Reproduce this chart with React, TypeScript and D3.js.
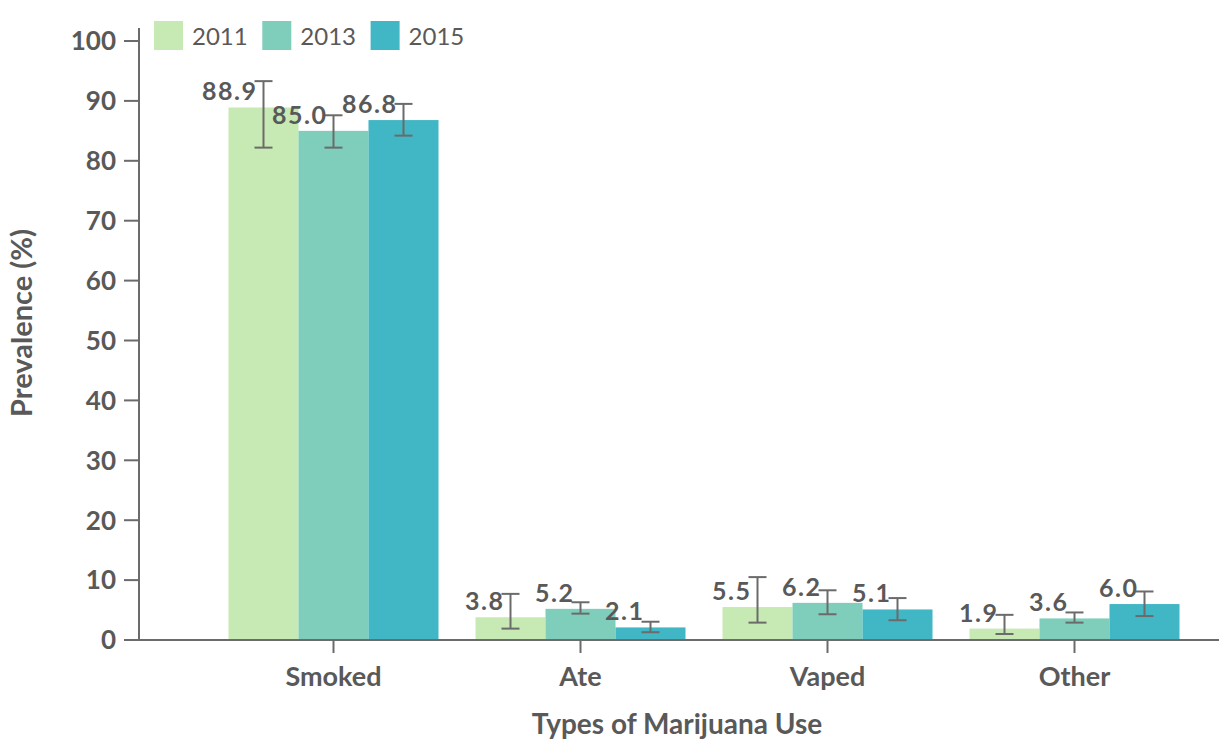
import React from "react";
import * as d3 from "d3";

const categories = ["Smoked", "Ate", "Vaped", "Other"];
const years = ["2011", "2013", "2015"];
const colors = ["#c7e9b4", "#7fcdbb", "#41b6c4"];
const values2011 = [88.9, 3.8, 5.5, 1.9];
const values2013 = [85.0, 5.2, 6.2, 3.6];
const values2015 = [86.8, 2.1, 5.1, 6.0];
const lower2011 = [82.2, 1.9, 2.9, 1.0];
const upper2011 = [93.3, 7.7, 10.5, 4.2];
const lower2013 = [82.2, 4.4, 4.3, 2.9];
const upper2013 = [87.6, 6.3, 8.3, 4.6];
const lower2015 = [84.2, 1.3, 3.3, 4.0];
const upper2015 = [89.5, 3.05, 7.0, 8.1];
const yTicks = [0, 10, 20, 30, 40, 50, 60, 70, 80, 90, 100];

const seriesValues = [values2011, values2013, values2015];
const seriesLower = [lower2011, lower2013, lower2015];
const seriesUpper = [upper2011, upper2013, upper2015];

const W = 1221;
const H = 742;
const axisX = 139;
const axisEnd = 1219;
const FONT = "Lato, 'Open Sans', sans-serif";
const TEXT = "#595959";
const AXIS = "#6b6b6b";

export default function App() {
  const y = d3.scaleLinear().domain([0, 100]).range([640, 41]);
  const x0 = d3.scaleBand<string>().domain(categories).range([210, 1198]);
  const x1 = d3
    .scaleBand<string>()
    .domain(years)
    .range([0, 210]);
  const groupOffset = (x0.bandwidth() - 210) / 2;

  return (
    <svg
      width={W}
      height={H}
      style={{ position: "absolute", left: 0, top: 0, background: "#fff" }}
      fontFamily={FONT}
    >
      {/* bars */}
      {categories.map((c, ci) => (
        <g key={c} transform={`translate(${(x0(c) ?? 0) + groupOffset},0)`}>
          {years.map((yr, si) => {
            const v = seriesValues[si][ci];
            const bx = x1(yr) ?? 0;
            return (
              <rect
                key={yr}
                x={bx}
                y={y(v)}
                width={x1.bandwidth()}
                height={y(0) - y(v)}
                fill={colors[si]}
              />
            );
          })}
        </g>
      ))}
      {/* error bars and labels */}
      {categories.map((c, ci) => (
        <g key={c + "e"} transform={`translate(${(x0(c) ?? 0) + groupOffset},0)`}>
          {years.map((yr, si) => {
            const v = seriesValues[si][ci];
            const cx = (x1(yr) ?? 0) + x1.bandwidth() / 2;
            const lo = seriesLower[si][ci];
            const hi = seriesUpper[si][ci];
            return (
              <g key={yr}>
                <line x1={cx} x2={cx} y1={y(lo)} y2={y(hi)} stroke={AXIS} strokeWidth={2} />
                <line x1={cx - 9} x2={cx + 9} y1={y(lo)} y2={y(lo)} stroke={AXIS} strokeWidth={2} />
                <line x1={cx - 9} x2={cx + 9} y1={y(hi)} y2={y(hi)} stroke={AXIS} strokeWidth={2} />
                <text
                  x={cx - 6}
                  y={y(v) - 7}
                  textAnchor="end"
                  fontSize={25}
                  fontWeight="bold"
                  fill={TEXT}
                  letterSpacing={1.5}
                >
                  {v.toFixed(1)}
                </text>
              </g>
            );
          })}
        </g>
      ))}
      {/* y axis */}
      <line x1={axisX} x2={axisX} y1={28} y2={641} stroke={AXIS} strokeWidth={2} />
      {yTicks.map((t) => (
        <g key={t} transform={`translate(0,${y(t)})`}>
          <line x1={124} x2={axisX} stroke={AXIS} strokeWidth={2} />
          <text
            x={116}
            dy="0.36em"
            textAnchor="end"
            fontSize={26}
            fontWeight="bold"
            fill={TEXT}
          >
            {t}
          </text>
        </g>
      ))}
      {/* x axis */}
      <line x1={axisX - 1} x2={axisEnd} y1={640} y2={640} stroke={AXIS} strokeWidth={2} />
      {categories.map((c) => {
        const cx = (x0(c) ?? 0) + x0.bandwidth() / 2;
        return (
          <g key={c + "t"}>
            <line x1={cx} x2={cx} y1={640} y2={653} stroke={AXIS} strokeWidth={2} />
            <text
              x={cx}
              y={686}
              textAnchor="middle"
              fontSize={27}
              fontWeight="bold"
              fill={TEXT}
            >
              {c}
            </text>
          </g>
        );
      })}
      {/* axis titles */}
      <text
        x={677}
        y={734}
        textAnchor="middle"
        fontSize={28}
        fontWeight="bold"
        fill={TEXT}
      >
        Types of Marijuana Use
      </text>
      <text
        transform="translate(32,323) rotate(-90)"
        textAnchor="middle"
        fontSize={29}
        fontWeight="bold"
        fill={TEXT}
      >
        Prevalence (%)
      </text>
      {/* legend */}
      {years.map((yr, i) => (
        <g key={yr + "l"} transform={`translate(${154 + i * 108.3},21)`}>
          <rect width={29} height={29} fill={colors[i]} />
          <text x={38} y={24} fontSize={24} fill={TEXT}>
            {yr}
          </text>
        </g>
      ))}
    </svg>
  );
}
